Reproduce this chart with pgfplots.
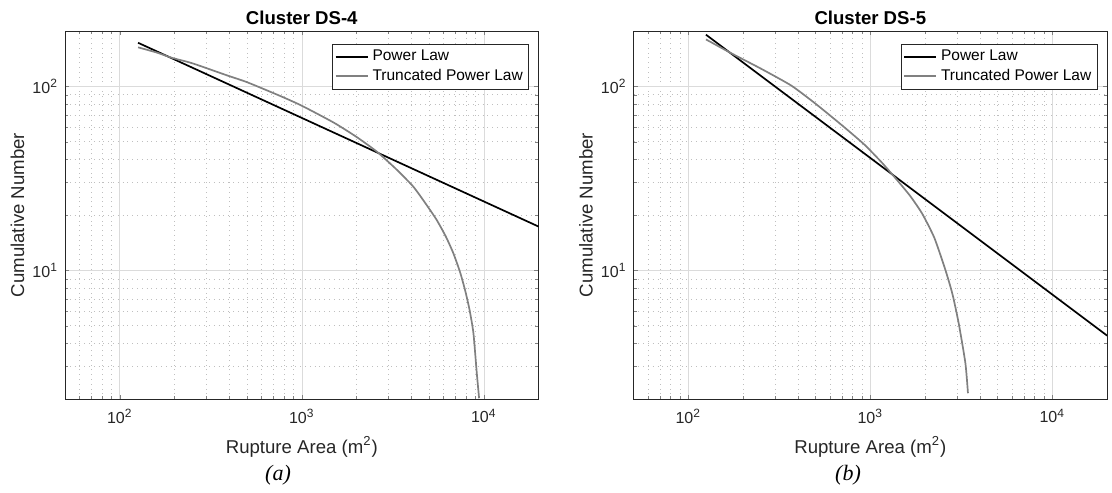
\documentclass[border=0pt]{standalone}
\usepackage{fontspec}
\setmainfont{Liberation Sans}
\newfontfamily\timesfont{Liberation Serif}
\usepackage{pgfplots}
\pgfplotsset{compat=1.18}

\definecolor{tpl}{gray}{0.5}
\definecolor{axc}{gray}{0.15}

\pgfplotsset{
  legend image code/.code={\draw[#1] (0pt,0pt) -- (16pt,0pt);},
  every axis/.append style={
  scale only axis, width=236.8pt, height=184pt,
  xmin=50, xmax=20000, ymin=2, ymax=200,
  xtick={100,1000,10000},
  xticklabels={10\textsuperscript{2},10\textsuperscript{3},10\textsuperscript{4}},
  ytick={10,100},
  yticklabels={10\textsuperscript{1},10\textsuperscript{2}},
  minor xtick={60,70,80,90,200,300,400,500,600,700,800,900,2000,3000,4000,5000,6000,7000,8000,9000},
  minor ytick={3,4,5,6,7,8,9,20,30,40,50,60,70,80,90},
  grid=both,
  major grid style={color=gray!28, line width=0.3pt},
  minor grid style={dotted, color=gray!50, line width=0.3pt},
  tick align=inside, xtick pos=both, ytick pos=both,
  major tick length=2.2pt, minor tick length=1.6pt,
  axis line style={axc, line width=0.4pt},
  tick label style={font=\fontsize{8}{9}\selectfont, color=axc},
  xticklabel style={yshift=-1.5pt},
  xlabel style={font=\fontsize{9.3}{11}\selectfont, color=axc, at={(axis description cs:0.5,-0.1304)}, anchor=center},
  ylabel style={font=\fontsize{9.3}{11}\selectfont, color=axc, at={(axis description cs:-0.1003,0.5)}, anchor=center},
  legend style={at={(0.98,0.965)}, anchor=north east,
    font=\fontsize{7.75}{9}\selectfont, draw=axc, line width=0.4pt,
    inner sep=1pt, row sep=-1.5pt, cells={anchor=west}},
  xlabel={Rupture Area (m\textsuperscript{2})},
  ylabel={Cumulative Number},
}}

\pgfplotstableread{
x y
126 172.6
20000 17.3
}\plA
\pgfplotstableread{
x y
126 163
160 152.6
193 143
250 133.6
386 115
500 105.4
759 88.8
1000 78.5
1500 63.5
2000 53.1
2583 44.2
3300 35.5
4100 28.5
4800 23
5510 18.8
6200 15.2
6800 12.4
7400 9.8
7890 7.81
8350 6.1
8770 4.55
9150 2.76
9420 2.02
}\tplA
\pgfplotstableread{
x y
125 191
20000 4.42
}\plB
\pgfplotstableread{
x y
125 180
173 151
250 125
368 101
500 80.5
705 61
927 48.3
1150 38.8
1353 32.3
1650 25.5
1930 20.3
2250 15.0
2590 10.0
2830 7.4
3060 5.15
3330 3.13
3440 2.15
}\tplB

\begin{document}
\begin{tikzpicture}
\useasboundingbox (-32.5pt,-46.5pt) rectangle (523.5pt,199.5pt);
\begin{loglogaxis}[at={(0pt,0pt)}, anchor=south west]
  \addplot[black, line width=0.85pt] table[x=x,y=y] {\plA};
  \addlegendentry{Power Law}
  \addplot[tpl, line width=0.85pt, smooth, tension=0.35] table[x=x,y=y] {\tplA};
  \addlegendentry{Truncated Power Law}
\end{loglogaxis}
\begin{loglogaxis}[at={(284.25pt,0pt)}, anchor=south west]
  \addplot[black, line width=0.85pt] table[x=x,y=y] {\plB};
  \addlegendentry{Power Law}
  \addplot[tpl, line width=0.85pt, smooth, tension=0.35] table[x=x,y=y] {\tplB};
  \addlegendentry{Truncated Power Law}
\end{loglogaxis}
\node[font=\bfseries\fontsize{9.3}{11}\selectfont, anchor=base, inner sep=0pt] at (118.4pt,187.2pt) {Cluster DS-4};
\node[font=\bfseries\fontsize{9.3}{11}\selectfont, anchor=base, inner sep=0pt] at (402.65pt,187.2pt) {Cluster DS-5};
\node[font=\timesfont\itshape\fontsize{11}{13}\selectfont] at (106.5pt,-38pt) {(a)};
\node[font=\timesfont\itshape\fontsize{11}{13}\selectfont] at (391.5pt,-38pt) {(b)};
\end{tikzpicture}
\end{document}
